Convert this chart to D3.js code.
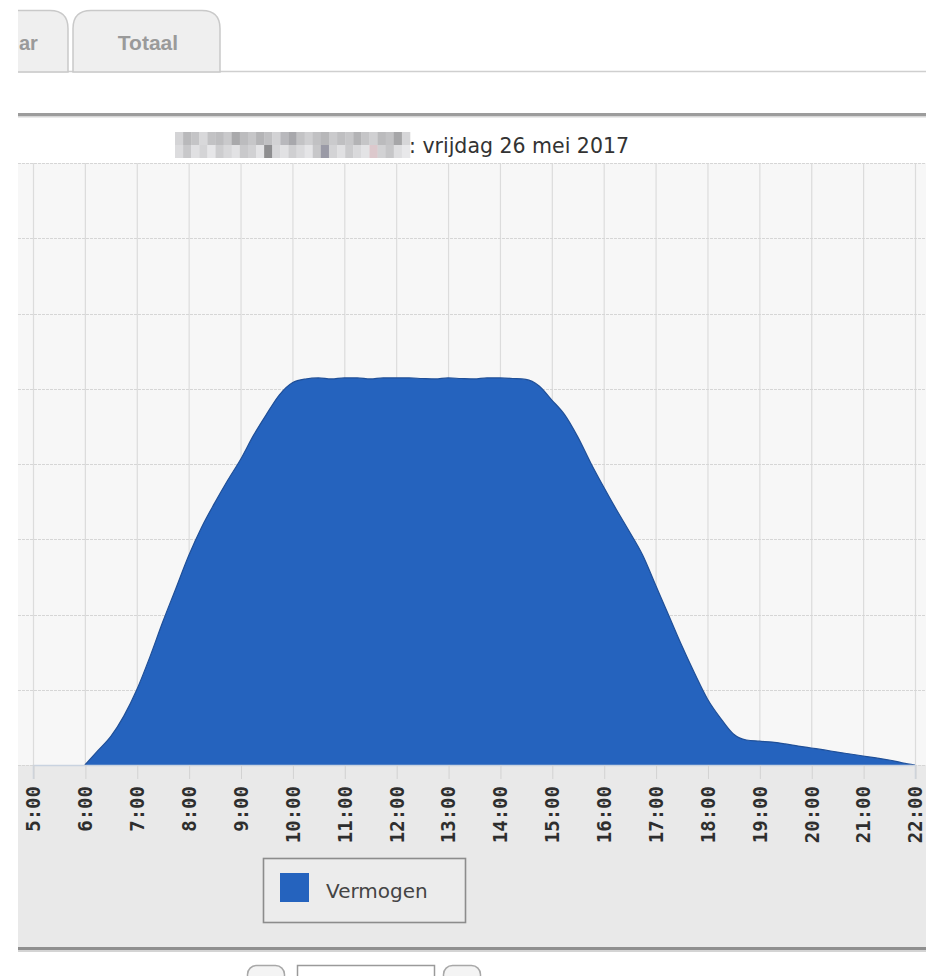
<!DOCTYPE html>
<html>
<head>
<meta charset="utf-8">
<script src="https://cdn.jsdelivr.net/npm/d3@7"></script>
<style>
  html, body { margin: 0; padding: 0; background: #ffffff; }
  svg { display: block; }
</style>
</head>
<body>
<svg id="chart" width="926" height="976"></svg>
<script>
// Power output (W) per quarter hour, vrijdag 26 mei 2017
const times = [
  "6:00","6:15","6:30","6:45","7:00","7:15","7:30","7:45",
  "8:00","8:15","8:30","8:45","9:00","9:15","9:30","9:45",
  "10:00","10:15","10:30","10:45","11:00","11:15","11:30","11:45",
  "12:00","12:15","12:30","12:45","13:00","13:15","13:30","13:45",
  "14:00","14:15","14:30","14:45","15:00","15:15","15:30","15:45",
  "16:00","16:15","16:30","16:45","17:00","17:15","17:30","17:45",
  "18:00","18:15","18:30","18:45","19:00","19:15","19:30","19:45",
  "20:00","20:15","20:30","20:45","21:00","21:15","21:30","21:45",
  "22:00"
];
const vermogen = [
  0, 95, 190, 325, 500, 715, 950, 1170,
  1390, 1580, 1740, 1890, 2030, 2190, 2330, 2460,
  2540, 2565, 2572, 2565, 2572, 2572, 2565, 2572,
  2572, 2572, 2568, 2565, 2572, 2568, 2565, 2572,
  2572, 2568, 2562, 2520, 2425, 2326, 2180, 2007,
  1847, 1694, 1548, 1395, 1196, 997, 797, 611,
  439, 312, 206, 166, 158, 152, 140, 126,
  113, 100, 86, 73, 60, 47, 33, 15,
  0
];
const tickHours = [5,6,7,8,9,10,11,12,13,14,15,16,17,18,19,20,21,22];
const tickLabels = ["5:00","6:00","7:00","8:00","9:00","10:00","11:00","12:00","13:00",
                    "14:00","15:00","16:00","17:00","18:00","19:00","20:00","21:00","22:00"];
const yGridValues = [0,500,1000,1500,2000,2500,3000,3500,4000];
const seriesName = "Vermogen";
const titleText = ": vrijdag 26 mei 2017";
const tabLabels = ["ar", "Totaal"];
// shades of the pixelated name block in the title
const mosaicTop = ["#d4d4d6","#b9b9bb","#c4c4c6","#d8d8da","#c2c2c4","#bdbdbf","#c9c9cb","#a9a9ab",
                   "#bcbcbe","#c6c6c8","#b4b4b6","#c0c0c2","#d2d2d4","#b8b8bc","#a8a8ac","#c3c3c5",
                   "#cfcfd1","#c1c1c3","#b7b7b9","#cacacc","#bfbfc1","#c7c7c9","#b3b3b5","#c5c5c7",
                   "#d0d0d2","#bbbbbd","#c2c2c4","#a6a6a8","#d6d6d8"];
const mosaicBottom = ["#dcdcde","#c8c8ca","#e0e0e2","#d4d4d6","#e6e6e8","#cdcdcf","#d8d8da","#e2e2e4",
                      "#c9c9cb","#d1d1d3","#e4e4e6","#8e8e90","#d7d7d9","#e1e1e3","#cfcfd1","#dadadc",
                      "#e5e5e7","#c7c7c9","#9a9aa6","#d3d3d5","#e0e0e2","#cbcbcd","#d9d9db","#e3e3e5",
                      "#dcc8cc","#d2d2d4","#c6c6c8","#dedee0","#e8e8ea"];

const svg = d3.select("#chart");
const W = 926, H = 976;
const left = 18;
const plotTop = 163, plotBottom = 765;
const parseHour = s => { const [h, m] = s.split(":").map(Number); return h + m / 60; };

svg.append("defs").append("clipPath").attr("id", "page")
  .append("rect").attr("x", left).attr("y", 0).attr("width", W - left).attr("height", H);

const root = svg.append("g").attr("clip-path", "url(#page)");

// ---------- tabs ----------
const tabs = root.append("g");
tabs.append("line").attr("x1", left).attr("x2", W).attr("y1", 71.5).attr("y2", 71.5)
  .attr("stroke", "#cfcfcf").attr("stroke-width", 1.5);
function tabPath(x0, x1, y0, y1, r) {
  return `M${x0},${y1} L${x0},${y0 + r} Q${x0},${y0} ${x0 + r},${y0} L${x1 - r},${y0} Q${x1},${y0} ${x1},${y0 + r} L${x1},${y1}`;
}
tabs.append("path").attr("d", tabPath(-80, 68, 10.5, 72, 18) + " Z")
  .attr("fill", "#efefef").attr("stroke", "#c9c9c9").attr("stroke-width", 1.5);
tabs.append("path").attr("d", tabPath(73, 220, 10.5, 72, 18) + " Z")
  .attr("fill", "#efefef").attr("stroke", "#c9c9c9").attr("stroke-width", 1.5);
tabs.append("text").attr("x", 19).attr("y", 50)
  .attr("font-family", "'Liberation Sans', Arial, sans-serif").attr("font-weight", "bold")
  .attr("font-size", 20).attr("fill", "#9a9a9a").text(tabLabels[0]);
tabs.append("text").attr("x", 148).attr("y", 50).attr("text-anchor", "middle")
  .attr("font-family", "'Liberation Sans', Arial, sans-serif").attr("font-weight", "bold")
  .attr("font-size", 21).attr("fill", "#9a9a9a").text(tabLabels[1]);

// ---------- panel borders ----------
root.append("rect").attr("x", left).attr("y", 113).attr("width", W - left).attr("height", 3).attr("fill", "#9c9c9c");
root.append("rect").attr("x", left).attr("y", 116).attr("width", W - left).attr("height", 1.5).attr("fill", "#d6d6d6");

// ---------- title ----------
const mosaicX0 = 175, mosaicX1 = 410;
const bw = (mosaicX1 - mosaicX0) / mosaicTop.length;
root.append("g").selectAll("rect.mt").data(mosaicTop).join("rect")
  .attr("x", (d, i) => mosaicX0 + i * bw).attr("y", 132).attr("width", bw + 0.3).attr("height", 13)
  .attr("fill", d => d);
root.append("g").selectAll("rect.mb").data(mosaicBottom).join("rect")
  .attr("x", (d, i) => mosaicX0 + i * bw).attr("y", 145).attr("width", bw + 0.3).attr("height", 13)
  .attr("fill", d => d);
root.append("text").attr("x", 409).attr("y", 153)
  .attr("font-family", "'DejaVu Sans', Verdana, sans-serif").attr("font-size", 20.5)
  .attr("fill", "#333").text(titleText);

// ---------- plot area ----------
const x = d3.scaleLinear().domain([5, 22]).range([33, 915]);
const y = d3.scaleLinear().domain([0, 4000]).range([plotBottom, plotTop]);

// area under the axis (axis labels and legend)
root.append("rect").attr("x", left).attr("y", plotBottom).attr("width", W - left).attr("height", 948 - plotBottom)
  .attr("fill", "#e9e9e9");
// plot background
root.append("rect").attr("x", left).attr("y", plotTop).attr("width", W - left).attr("height", plotBottom - plotTop)
  .attr("fill", "#f7f7f7");

// grid
const grid = root.append("g");
grid.selectAll("line.v").data(tickHours).join("line")
  .attr("x1", d => x(d) + 0.5).attr("x2", d => x(d) + 0.5)
  .attr("y1", plotTop).attr("y2", plotBottom)
  .attr("stroke", "#dcdcdc").attr("stroke-width", 1.2);
grid.selectAll("line.h").data(yGridValues).join("line")
  .attr("x1", left).attr("x2", W)
  .attr("y1", d => Math.round(y(d)) + 0.5).attr("y2", d => Math.round(y(d)) + 0.5)
  .attr("stroke", "#d6d6d6").attr("stroke-width", 1.2).attr("stroke-dasharray", "3,1");

// series area
const pts = times.map((t, i) => ({ h: parseHour(t), v: vermogen[i] }));
const area = d3.area().x(d => x(d.h)).y0(y(0)).y1(d => y(d.v)).curve(d3.curveMonotoneX);
const line = d3.line().x(d => x(d.h)).y(d => y(d.v)).curve(d3.curveMonotoneX);
root.append("path").datum(pts).attr("d", area).attr("fill", "#2563be");
root.append("path").datum(pts).attr("d", line).attr("fill", "none")
  .attr("stroke", "#1f4f98").attr("stroke-width", 1.2);

// x axis
const xAxis = d3.axisBottom(x).tickValues(tickHours)
  .tickFormat((d, i) => tickLabels[i]).tickSize(14).tickPadding(0);
const ax = root.append("g").attr("transform", `translate(0,${plotBottom})`).call(xAxis);
ax.select(".domain").attr("stroke", "#c9d3e0").attr("stroke-width", 1.5);
ax.selectAll(".tick line").attr("stroke", "#d2d2d2").attr("transform", "translate(0.5,0)");
ax.selectAll(".tick text")
  .attr("font-family", "'DejaVu Sans Mono', monospace").attr("font-weight", "bold")
  .attr("font-size", 19).attr("fill", "#2e2e2e")
  .attr("text-anchor", "end")
  .attr("transform", "rotate(-90)")
  .attr("x", -21).attr("y", 0).attr("dy", "0.36em");

// legend
const lg = root.append("g");
lg.append("rect").attr("x", 263.5).attr("y", 858.5).attr("width", 202).attr("height", 64)
  .attr("fill", "#ececec").attr("stroke", "#8c8c8c").attr("stroke-width", 1.6);
lg.append("rect").attr("x", 280).attr("y", 873).attr("width", 29).attr("height", 29).attr("fill", "#2563be");
lg.append("text").attr("x", 326).attr("y", 898)
  .attr("font-family", "'DejaVu Sans', Verdana, sans-serif").attr("font-size", 20)
  .attr("fill", "#444").text(seriesName);

// panel bottom border
root.append("rect").attr("x", left).attr("y", 947).attr("width", W - left).attr("height", 3).attr("fill", "#8f8f8f");
root.append("rect").attr("x", left).attr("y", 950).attr("width", W - left).attr("height", 2).attr("fill", "#d4d4d4");

// pager controls
const pg = root.append("g");
pg.append("rect").attr("x", 247.5).attr("y", 965.5).attr("width", 37).attr("height", 30).attr("rx", 9)
  .attr("fill", "#f4f4f4").attr("stroke", "#a8a8a8").attr("stroke-width", 1.5);
pg.append("rect").attr("x", 297.5).attr("y", 965.5).attr("width", 137).attr("height", 30)
  .attr("fill", "#ffffff").attr("stroke", "#9a9a9a").attr("stroke-width", 1.5);
pg.append("rect").attr("x", 443.5).attr("y", 965.5).attr("width", 37).attr("height", 30).attr("rx", 9)
  .attr("fill", "#f4f4f4").attr("stroke", "#a8a8a8").attr("stroke-width", 1.5);
</script>
</body>
</html>
